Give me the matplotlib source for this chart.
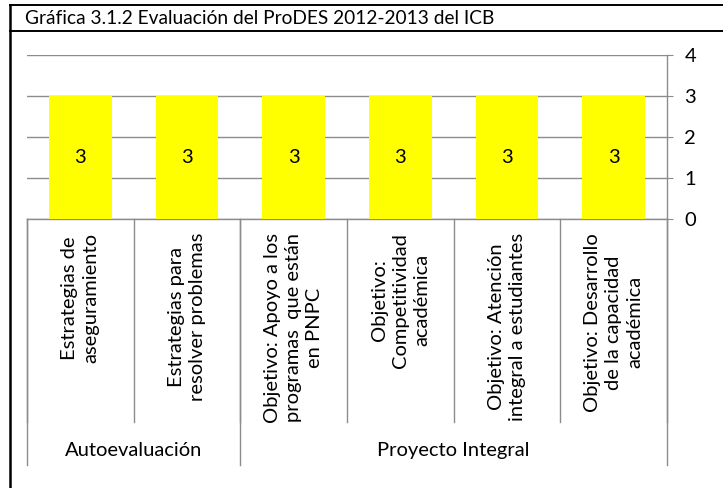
import matplotlib
matplotlib.use("Agg")
import matplotlib.pyplot as plt
from matplotlib.lines import Line2D

plt.rcParams['font.family'] = ['Lato', 'DejaVu Sans']

title = "Gráfica 3.1.2 Evaluación del ProDES 2012-2013 del ICB"
categories = [
    "Estrategias de\naseguramiento",
    "Estrategias para\nresolver problemas",
    "Objetivo: Apoyo a los\nprogramas  que están\nen PNPC",
    "Objetivo:\nCompetitividad\nacadémica",
    "Objetivo: Atención\nintegral a estudiantes",
    "Objetivo: Desarrollo\nde la capacidad\nacadémica",
]
values = [3, 3, 3, 3, 3, 3]
groups = ["Autoevaluación", "Proyecto Integral"]
group_sizes = [2, 4]
yticks = [0, 1, 2, 3, 4]

W, H = 723, 488
fig = plt.figure(figsize=(W / 100, H / 100), dpi=100)
fs = 14.5

# plot area in pixels
left, right, top, bottom = 27, 667, 55, 219
ax = fig.add_axes([left / W, 1 - bottom / H, (right - left) / W, (bottom - top) / H])

def yfrac(py):
    # pixel row -> axes fraction
    return (bottom - py) / (bottom - top)

grey = '#8c8c8c'
x = list(range(len(categories)))
bars = ax.bar(x, values, width=0.59, color='#ffff00', zorder=3)
for b, v in zip(bars, values):
    ax.text(b.get_x() + b.get_width() / 2, v / 2, str(v), ha='center', va='center',
            fontsize=fs, zorder=4)

ax.set_xlim(-0.5, len(categories) - 0.5)
ax.set_ylim(0, 4)
ax.set_yticks(yticks)
ax.yaxis.tick_right()
ax.tick_params(axis='y', direction='out', length=4.5, color=grey, pad=8, labelsize=fs)
ax.set_xticks([])
ax.grid(axis='y', color=grey, linewidth=1, zorder=0)
for s in ['top', 'left']:
    ax.spines[s].set_visible(False)
for s in ['right', 'bottom']:
    ax.spines[s].set_color(grey)
    ax.spines[s].set_linewidth(1)

tr = ax.get_xaxis_transform()
# category separators
for i in range(len(categories) + 1):
    ax.plot([i - 0.5, i - 0.5], [0, yfrac(422)], color=grey, lw=1, transform=tr, clip_on=False)
edges = [-0.5]
for n in group_sizes:
    edges.append(edges[-1] + n)
for e in edges:
    ax.plot([e, e], [0, yfrac(465)], color=grey, lw=1, transform=tr, clip_on=False)

for i, lab in enumerate(categories):
    ax.text(i, yfrac(233), lab, rotation=90, ha='center', va='top',
            multialignment='center', fontsize=fs, transform=tr, linespacing=1.3)

for g, a, b in zip(groups, edges[:-1], edges[1:]):
    ax.text((a + b) / 2, yfrac(450), g, ha='center', va='center', fontsize=fs, transform=tr)

# table frame around the chart
fig.add_artist(Line2D([10 / W, 1], [1 - 5 / H, 1 - 5 / H], color='black', lw=1.4))
fig.add_artist(Line2D([10 / W, 1], [1 - 31 / H, 1 - 31 / H], color='black', lw=1.4))
fig.add_artist(Line2D([10 / W, 10 / W], [0, 1 - 5 / H], color='black', lw=1.8))
fig.text(25 / W, 1 - 18 / H, title, ha='left', va='center', fontsize=13.8)

fig.savefig('out.png', dpi=100)
